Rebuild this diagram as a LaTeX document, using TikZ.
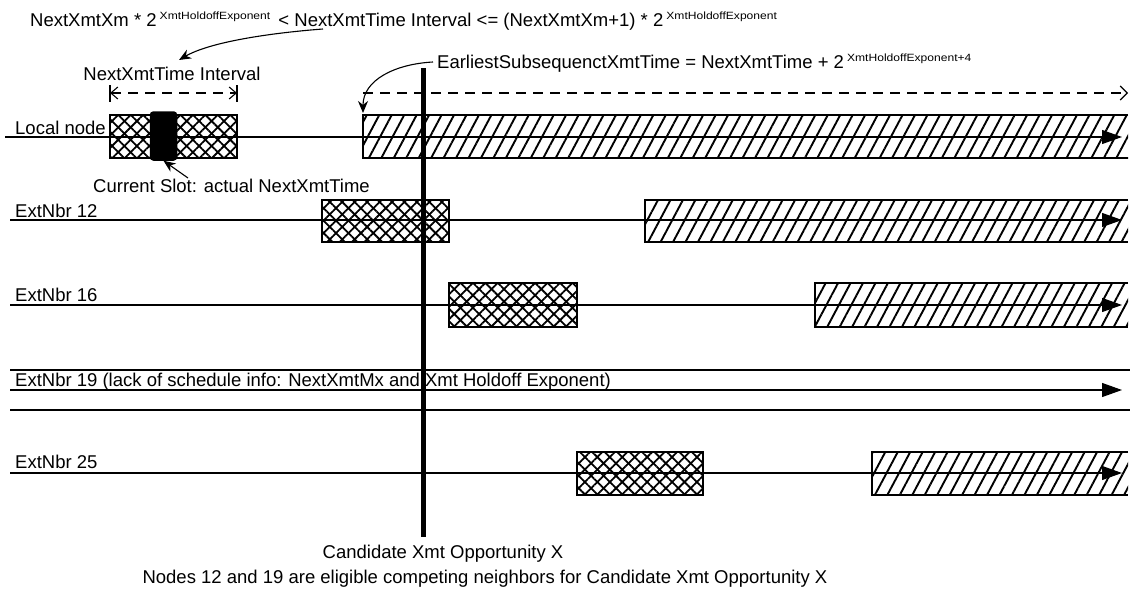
\documentclass[tikz,border=0pt]{standalone}
\usepackage{fontspec}
\setmainfont{Liberation Sans}
\usetikzlibrary{patterns.meta,arrows.meta}
\newcommand\supx[1]{\raisebox{7.5pt}{\scalebox{1.15}[1]{\fontsize{10.5}{10.5}\selectfont #1}}}
\newcommand\xbox[4]{%
  \fill[white] (#1,#2) rectangle (#3,#4);
  \fill[pattern={Lines[angle=45,distance=8.8pt,line width=1.8pt]}] (#1,#2) rectangle (#3,#4);
  \fill[pattern={Lines[angle=-45,distance=8.8pt,line width=1.8pt]}] (#1,#2) rectangle (#3,#4);
  \draw[line width=1.4pt] (#1,#2) rectangle (#3,#4);}
\newcommand\hatchbar[3]{%
  \fill[white] (#1,#2) rectangle (1128,#3);
  \fill[pattern={Lines[angle=62,distance=11pt,line width=1.9pt]}] (#1,#2) rectangle (1128,#3);
  \draw[line width=1.4pt] (1128,#2) -- (#1,#2) -- (#1,#3) -- (1128,#3);}
\begin{document}
\begin{tikzpicture}[x=1pt,y=-1pt,
  txt/.style={font=\fontsize{18.5}{20}\selectfont, inner sep=0pt, anchor=base west},
  rowline/.style={line width=1.2pt, -{Triangle[length=20pt,width=14pt]}},
  plainline/.style={line width=1.2pt},
  candbar/.style={line width=5pt},
  arr/.style={line width=1.1pt, -{Stealth[length=12pt,width=10pt]}},
  intv/.style={line width=1.1pt, dash pattern=on 10pt off 7pt},
  ]
\useasboundingbox (0,0) rectangle (1134,594);
\fill[white] (0,0) rectangle (1134,594);

% top formula
\node[txt] (formula) at (30,27) {NextXmtXm * 2\,\supx{XmtHoldoffExponent} \,< NextXmtTime Interval <= (NextXmtXm+1) * 2\,\supx{XmtHoldoffExponent}};
\node[txt, anchor=base] (intlbl) at (172,81) {NextXmtTime Interval};
\node[txt] (earliest) at (437,69) {EarliestSubsequenctXmtTime = NextXmtTime + 2\,\supx{XmtHoldoffExponent+4}};

% boxes
\xbox{110}{115}{237}{158}
\hatchbar{363}{115}{158}
\xbox{322}{200}{449}{242}
\hatchbar{645}{200}{242}
\xbox{449}{283}{577}{327}
\hatchbar{815}{283}{327}
\xbox{577}{452}{703}{495}
\hatchbar{872}{452}{495}

% row labels
\node[txt] (local) at (15,134) {Local node};
\node[txt] (n12) at (15,217) {ExtNbr 12};
\node[txt] (n16) at (15,301) {ExtNbr 16};
\node[txt] (n19) at (15,386) {ExtNbr 19 (lack of schedule info: NextXmtMx and Xmt Holdoff Exponent)};
\node[txt] (n25) at (15,468) {ExtNbr 25};

% row lines
\coordinate (l0) at (5,137);   \coordinate (r0) at (1122,137);
\coordinate (l1) at (10,220);  \coordinate (r1) at (1122,220);
\coordinate (l2) at (10,305);  \coordinate (r2) at (1122,305);
\coordinate (l3t) at (10,370); \coordinate (r3t) at (1130,370);
\coordinate (l3) at (10,390);  \coordinate (r3) at (1122,390);
\coordinate (l3b) at (10,410); \coordinate (r3b) at (1130,410);
\coordinate (l4) at (10,473);  \coordinate (r4) at (1122,473);
\draw[rowline] (l0) -- (r0);
\draw[rowline] (l1) -- (r1);
\draw[rowline] (l2) -- (r2);
\draw[plainline] (l3t) -- (r3t);
\draw[rowline] (l3) -- (r3);
\draw[plainline] (l3b) -- (r3b);
\draw[rowline] (l4) -- (r4);

% current slot
\node[draw, fill=black, line width=1.5pt, rounded corners=3pt, minimum width=26pt, minimum height=48pt, inner sep=0pt] (slot) at (163.5,136) {};
\node[txt] (slotlbl) at (93,192) {Current Slot: actual NextXmtTime};
\draw[arr] (188,178) -- (slot.south);

% interval
\coordinate (ia) at (110,93); \coordinate (ib) at (237,93);
\draw[line width=1.1pt] (110,85) -- (110,102) (237,85) -- (237,102);
\draw[intv, {Straight Barb[length=7pt,width=12pt]}-{Straight Barb[length=7pt,width=12pt]}] (ia) -- (ib);
\coordinate (ea) at (363,93); \coordinate (eb) at (1128,93);
\draw[intv, -{Straight Barb[length=7pt,width=14pt]}] (ea) -- (eb);

% curved arrows
\coordinate (c1s) at (323,29); \coordinate (c1e) at (179,60);
\draw[arr] (c1s) .. controls (270,33) and (210,42) .. (c1e);
\coordinate (c2s) at (433,62); \coordinate (c2e) at (363,113);
\draw[arr] (c2s) .. controls (395,64) and (363,80) .. (c2e);

% candidate bar
\coordinate (ct) at (423,68); \coordinate (cb) at (423,537);
\draw[candbar] (ct) -- (cb);
\node[txt, anchor=base] (candlbl) at (443,558) {Candidate Xmt Opportunity X};
\node[txt, anchor=base] (caption) at (485,583) {Nodes 12 and 19 are eligible competing neighbors for Candidate Xmt Opportunity X};
\end{tikzpicture}
\end{document}
